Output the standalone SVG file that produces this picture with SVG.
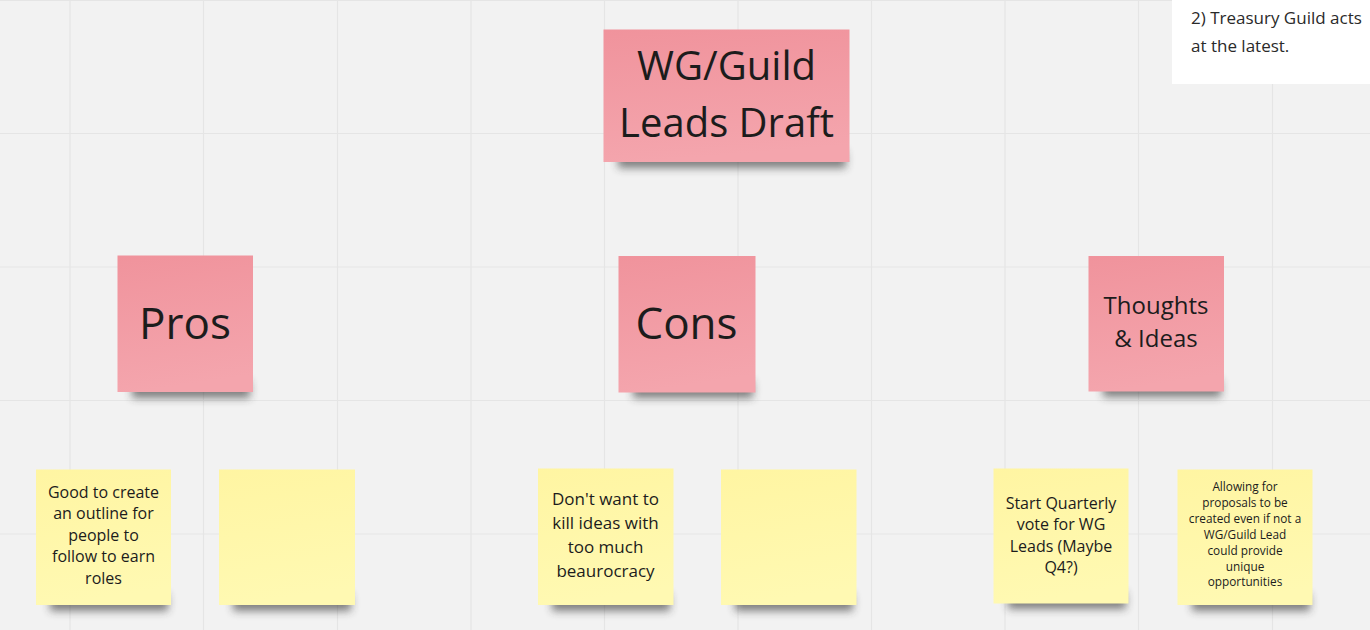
<svg xmlns="http://www.w3.org/2000/svg" width="1370" height="630" viewBox="0 0 1370 630">
  <defs>
    <linearGradient id="pink" x1="0" y1="0" x2="0.15" y2="1">
      <stop offset="0" stop-color="#f0939c"/>
      <stop offset="1" stop-color="#f4a5ad"/>
    </linearGradient>
    <linearGradient id="yellow" x1="0" y1="0" x2="0.15" y2="1">
      <stop offset="0" stop-color="#fff5a2"/>
      <stop offset="1" stop-color="#fff9b2"/>
    </linearGradient>
    <filter id="soft" x="-20%" y="-100%" width="140%" height="300%">
      <feGaussianBlur stdDeviation="4"/>
    </filter>
  </defs>
  <style>
    .grid line { stroke: #e5e5e5; stroke-width: 1.2; }
    .shadow { fill: #333333; opacity: 0.6; filter: url(#soft); }
    .pink { fill: url(#pink); }
    .yellow { fill: url(#yellow); }
    text { font-family: "Open Sans", "Liberation Sans", sans-serif; fill: #1c1c1c; text-anchor: middle; }
    .big { font-size: 44px; }
    .title { font-size: 40px; }
    .mid { font-size: 24px; }
    .note { font-size: 16px; }
    .note17 { font-size: 17px; }
    .small { font-size: 11.8px; }
    .plain { text-anchor: start; font-size: 17px; fill: #2a2a2a; }
  </style>

  <!-- board background -->
  <rect width="1370" height="630" fill="#f2f2f2"/>

  <!-- board grid -->
  <g class="grid">
    <line x1="70" y1="0" x2="70" y2="630"/>
    <line x1="203.5" y1="0" x2="203.5" y2="630"/>
    <line x1="337.5" y1="0" x2="337.5" y2="630"/>
    <line x1="471" y1="0" x2="471" y2="630"/>
    <line x1="604.5" y1="0" x2="604.5" y2="630"/>
    <line x1="738" y1="0" x2="738" y2="630"/>
    <line x1="871.5" y1="0" x2="871.5" y2="630"/>
    <line x1="1005" y1="0" x2="1005" y2="630"/>
    <line x1="1138.5" y1="0" x2="1138.5" y2="630"/>
    <line x1="1272.5" y1="0" x2="1272.5" y2="630"/>
    <line x1="0" y1="0.5" x2="1370" y2="0.5"/>
    <line x1="0" y1="133.5" x2="1370" y2="133.5"/>
    <line x1="0" y1="267" x2="1370" y2="267"/>
    <line x1="0" y1="400.5" x2="1370" y2="400.5"/>
    <line x1="0" y1="534" x2="1370" y2="534"/>
  </g>

  <!-- text block, top right -->
  <g id="note-text">
    <rect x="1172" y="0" width="198" height="84" fill="#ffffff"/>
    <text class="plain" x="1191" y="24">2) Treasury Guild acts</text>
    <text class="plain" x="1191" y="52">at the latest.</text>
  </g>

  <!-- header sticky -->
  <g id="title">
    <rect class="shadow" x="618" y="151" width="228" height="17"/>
    <rect class="pink" x="603.5" y="29.5" width="246" height="132.5"/>
    <text class="title" x="726.5" y="80">WG/Guild</text>
    <text class="title" x="726.5" y="137">Leads Draft</text>
  </g>

  <!-- category stickies -->
  <g id="pros">
    <rect class="shadow" x="132" y="381" width="118" height="17"/>
    <rect class="pink" x="117.5" y="255.5" width="135.5" height="136.5"/>
    <text class="big" x="185" y="338.5">Pros</text>
  </g>
  <g id="cons">
    <rect class="shadow" x="633" y="381" width="120" height="17"/>
    <rect class="pink" x="618.5" y="256" width="137" height="136.5"/>
    <text class="big" x="686.5" y="338.5">Cons</text>
  </g>
  <g id="thoughts">
    <rect class="shadow" x="1103" y="380" width="118" height="17"/>
    <rect class="pink" x="1088.5" y="256" width="135.5" height="135.5"/>
    <text class="mid" x="1156" y="313.5">Thoughts</text>
    <text class="mid" x="1156" y="347">&amp; Ideas</text>
  </g>

  <!-- pros notes -->
  <g id="pros-note-1">
    <rect class="shadow" x="50" y="594" width="118" height="17"/>
    <rect class="yellow" x="36" y="469.5" width="135" height="135.5"/>
    <text class="note" x="103.5" y="497.5">Good to create</text>
    <text class="note" x="103.5" y="519">an outline for</text>
    <text class="note" x="103.5" y="540.5">people to</text>
    <text class="note" x="103.5" y="562">follow to earn</text>
    <text class="note" x="103.5" y="583.5">roles</text>
  </g>
  <g id="pros-note-2">
    <rect class="shadow" x="233" y="594" width="118" height="17"/>
    <rect class="yellow" x="219" y="469.5" width="136" height="135.5"/>
  </g>

  <!-- cons notes -->
  <g id="cons-note-1">
    <rect class="shadow" x="552" y="594" width="118" height="17"/>
    <rect class="yellow" x="538" y="468.5" width="135.5" height="136.5"/>
    <text class="note17" x="605.5" y="505">Don't want to</text>
    <text class="note17" x="605.5" y="529">kill ideas with</text>
    <text class="note17" x="605.5" y="553">too much</text>
    <text class="note17" x="605.5" y="577">beaurocracy</text>
  </g>
  <g id="cons-note-2">
    <rect class="shadow" x="735" y="594" width="118" height="17"/>
    <rect class="yellow" x="721" y="469.5" width="135.5" height="135.5"/>
  </g>

  <!-- thoughts notes -->
  <g id="ideas-note-1">
    <rect class="shadow" x="1008" y="592" width="118" height="17"/>
    <rect class="yellow" x="993.5" y="468.5" width="135" height="135"/>
    <text class="note" x="1061" y="508.5">Start Quarterly</text>
    <text class="note" x="1061" y="530">vote for WG</text>
    <text class="note" x="1061" y="551.5">Leads (Maybe</text>
    <text class="note" x="1061" y="573">Q4?)</text>
  </g>
  <g id="ideas-note-2">
    <rect class="shadow" x="1192" y="594" width="118" height="17"/>
    <rect class="yellow" x="1177.5" y="469.5" width="135" height="135.5"/>
    <text class="small" x="1245" y="491">Allowing for</text>
    <text class="small" x="1245" y="507">proposals to be</text>
    <text class="small" x="1245" y="523">created even if not a</text>
    <text class="small" x="1245" y="539">WG/Guild Lead</text>
    <text class="small" x="1245" y="555">could provide</text>
    <text class="small" x="1245" y="571">unique</text>
    <text class="small" x="1245" y="586">opportunities</text>
  </g>
</svg>
